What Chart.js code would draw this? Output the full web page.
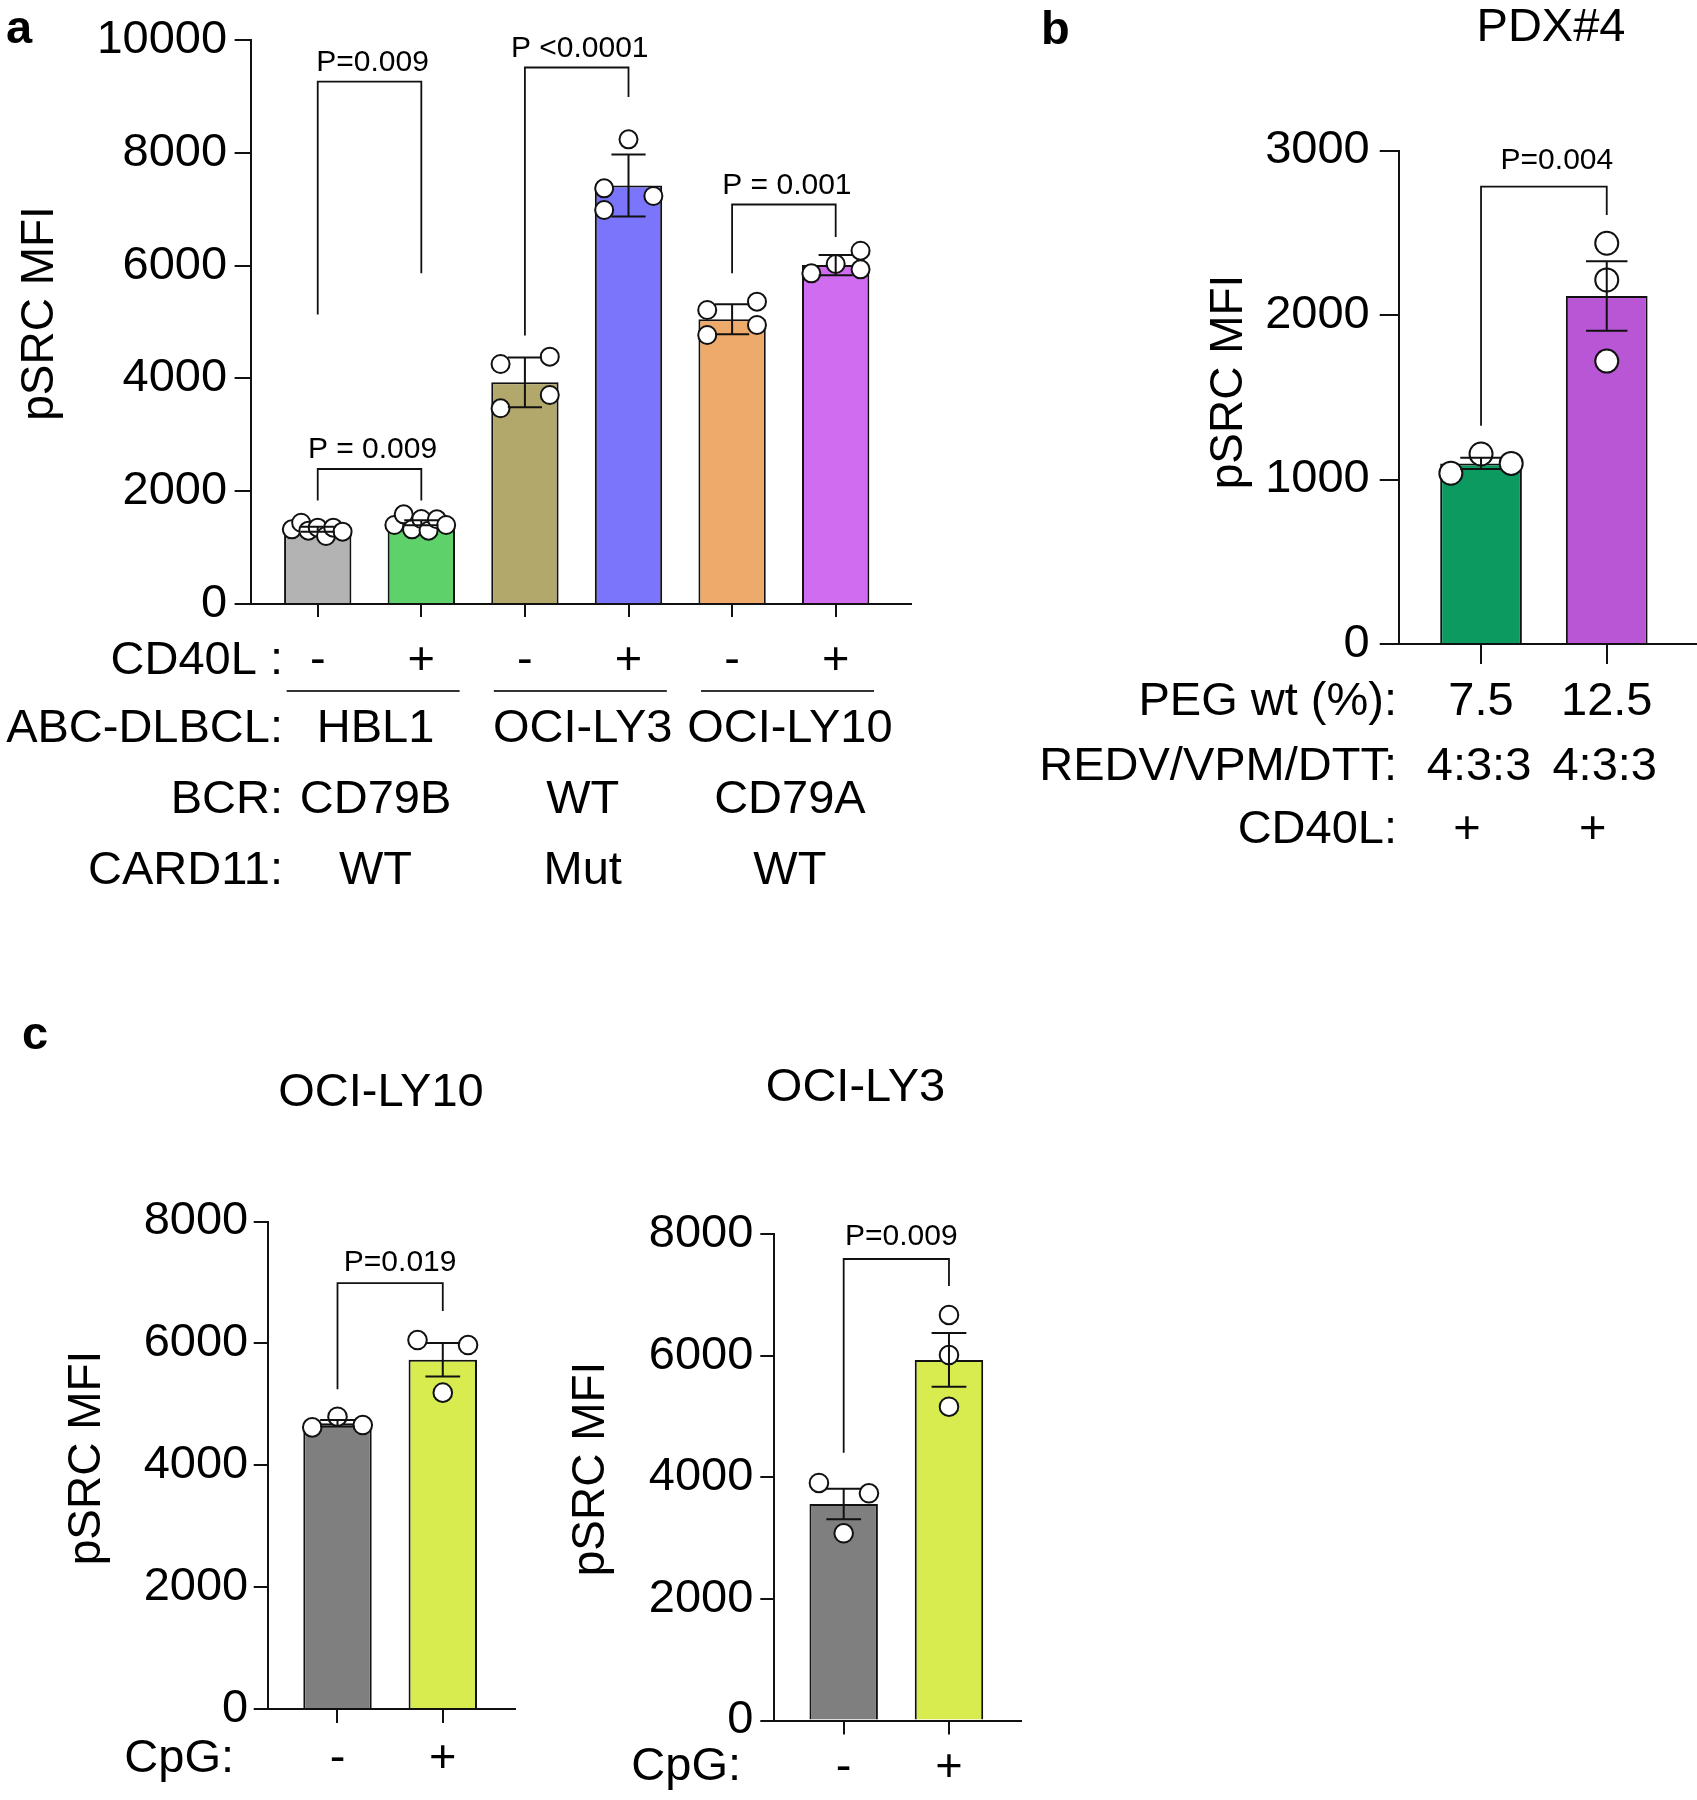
<!DOCTYPE html>
<html><head><meta charset="utf-8">
<script src="https://cdn.jsdelivr.net/npm/chart.js@4.4.1/dist/chart.umd.min.js"></script>
<style>
html,body{margin:0;padding:0;background:#fff;}
#wrap{position:relative;width:1697px;height:1800px;background:#fff;}
#wrap canvas{position:absolute;left:0;top:0;}
</style></head><body>
<div id="wrap">
<canvas id="ca" width="1697" height="1800"></canvas>
<canvas id="cb" width="1697" height="1800"></canvas>
<canvas id="cc1" width="1697" height="1800"></canvas>
<canvas id="cc2" width="1697" height="1800"></canvas>
</div>
<script>
// ---------------- DATA ----------------
// Panel a
const aTicks = ['-', '+', '-', '+', '-', '+'];
const aMeans = [1325, 1440, 3930, 7420, 5050, 6010];
const aSD = [45, 45, 440, 550, 265, 180];
const aPoints = [
  [1324, 1441, 1300, 1353, 1206, 1353, 1282],
  [1401, 1590, 1324, 1507, 1300, 1502, 1401],
  [4255, 4385, 3706, 3470],
  [8239, 7370, 7234, 6986],
  [5213, 5360, 4947, 4770],
  [5863, 6028, 6264, 5934]
];
const aJitter = [
  [-0.25, -0.16, -0.09, 0, 0.08, 0.15, 0.24],
  [-0.26, -0.17, -0.09, 0, 0.07, 0.15, 0.24],
  [-0.235, 0.24, 0.24, -0.235],
  [0, -0.235, 0.24, -0.235],
  [-0.24, 0.24, 0.24, -0.24],
  [-0.235, 0, 0.24, 0.24]
];
const aRowNames = ['CD40L :', 'ABC-DLBCL:', 'BCR:', 'CARD11:'];
const aCellLines = ['HBL1', 'OCI-LY3', 'OCI-LY10'];
const aBCR = ['CD79B', 'WT', 'CD79A'];
const aCARD11 = ['WT', 'Mut', 'WT'];
const aBrPairs = [[0, 1], [0, 1], [2, 3], [4, 5]];
const aBrTop = [9261, 2394, 9512, 7083];
const aBrLeftEnd = [5131, 1833, 4759, 5865];
const aBrRightEnd = [5865, 1833, 8988, 6509];
const aBrText = ['P=0.009', 'P = 0.009', 'P <0.0001', 'P = 0.001'];

// Panel b
const bTicks = ['7.5', '12.5'];
const bMeans = [1098, 2116];
const bSEM = [34, 211];
const bPoints = [[1038, 1155, 1098], [2436, 2213, 1720]];
const bJitter = [[-0.24, 0, 0.24], [0, 0, 0]];
const bRowNames = ['PEG wt (%):', 'REDV/VPM/DTT:', 'CD40L:'];
const bRatio = ['4:3:3', '4:3:3'];
const bCD40L = ['+', '+'];
const bBrPairs = [[0, 1]];
const bBrTop = [2781];
const bBrLeftEnd = [1327];
const bBrRightEnd = [2608];
const bBrText = ['P=0.004'];

// Panel c (OCI-LY10)
const c1Ticks = ['-', '+'];
const c1Means = [4690, 5730];
const c1SEM = [53, 275];
const c1Points = [[4622, 4797, 4660], [6055, 5973, 5191]];
const c1Jitter = [[-0.24, 0, 0.24], [-0.24, 0.24, 0]];
const c1BrPairs = [[0, 1]];
const c1BrTop = [6990];
const c1BrLeftEnd = [5246];
const c1BrRightEnd = [6531];
const c1BrText = ['P=0.019'];

// Panel c (OCI-LY3)
const c2Ticks = ['-', '+'];
const c2Means = [3560, 5930];
const c2SEM = [250, 440];
const c2Points = [[3906, 3736, 3078], [6668, 6010, 5160]];
const c2Jitter = [[-0.235, 0.24, 0], [0, 0, 0]];
const c2BrPairs = [[0, 1]];
const c2BrTop = [7589];
const c2BrLeftEnd = [4404];
const c2BrRightEnd = [7145];
const c2BrText = ['P=0.009'];

// ---------------- STYLE ----------------
const FONT = "'Liberation Sans', Arial, Helvetica, sans-serif";
Chart.defaults.font.family = FONT;
Chart.defaults.color = '#000';
const BIG = 47;
const aColors = ['#b3b3b3', '#5ed16a', '#b2a86b', '#7b75fb', '#eeaa6b', '#cf6cf0'];
const bColors = ['#0c9a60', '#b956d6'];
const cColors = ['#7f7f7f', '#d8ec50'];
const INK = '#111';

function drawText(ctx, s, x, y, o) {
  o = o || {};
  ctx.save();
  ctx.font = (o.weight || 'normal') + ' ' + (o.size || BIG) + 'px ' + FONT;
  ctx.fillStyle = '#000';
  ctx.textAlign = o.align || 'center';
  ctx.textBaseline = o.baseline || 'middle';
  if (o.rot) { ctx.translate(x, y); ctx.rotate(o.rot); ctx.fillText(s, 0, 0); }
  else ctx.fillText(s, x, y);
  ctx.restore();
}

function pointsData(points, jitter) {
  const out = [];
  points.forEach((arr, i) => arr.forEach((v, j) => out.push({x: i + jitter[i][j], y: v})));
  return out;
}

function annot(spec) {
  return {
    id: 'annot',
    afterDatasetsDraw(chart) {
      const ctx = chart.ctx, xs = chart.scales.x, ys = chart.scales.y;
      const unit = xs.getPixelForValue(1) - xs.getPixelForValue(0);
      ctx.save();
      ctx.strokeStyle = INK; ctx.lineWidth = 2; ctx.lineCap = 'butt';
      spec.means.forEach((v, i) => {
        const x = xs.getPixelForValue(i);
        const y1 = ys.getPixelForValue(v + spec.err[i]);
        const y2 = ys.getPixelForValue(v - spec.err[i]);
        const cw = 0.165 * unit;
        ctx.beginPath();
        ctx.moveTo(x, y1); ctx.lineTo(x, y2);
        ctx.moveTo(x - cw, y1); ctx.lineTo(x + cw, y1);
        ctx.moveTo(x - cw, y2); ctx.lineTo(x + cw, y2);
        ctx.stroke();
      });
      const br = spec.br;
      ctx.lineWidth = 1.8; ctx.lineJoin = 'miter';
      br.pairs.forEach((p, k) => {
        const xl = xs.getPixelForValue(p[0]), xr = xs.getPixelForValue(p[1]);
        const yt = ys.getPixelForValue(br.top[k]);
        ctx.beginPath();
        ctx.moveTo(xl, ys.getPixelForValue(br.left[k]));
        ctx.lineTo(xl, yt); ctx.lineTo(xr, yt);
        ctx.lineTo(xr, ys.getPixelForValue(br.right[k]));
        ctx.stroke();
        drawText(ctx, br.text[k], (xl + xr) / 2 + spec.pShift, yt - spec.pGap, {size: 30});
      });
      ctx.restore();
      spec.extra(ctx, xs, ys);
    }
  };
}

function buildPanel(spec) {
  const YW = 150, XH = 90;
  const B = spec.box;
  new Chart(document.getElementById(spec.id), {
    type: 'bar',
    data: {
      datasets: [
        {type: 'bar', data: spec.means.map((v, i) => ({x: i, y: v})), backgroundColor: spec.colors,
         borderColor: INK, borderWidth: 2, barPercentage: 0.65, categoryPercentage: 1, order: 2},
        {type: 'scatter', data: pointsData(spec.points, spec.jitter), pointRadius: spec.r,
         pointBackgroundColor: '#fff', pointBorderColor: INK, pointBorderWidth: 2, order: 1, clip: false}
      ]
    },
    options: {
      responsive: false, animation: false, events: [],
      layout: {autoPadding: false,
               padding: {left: B.left - YW, top: B.top, right: 1697 - B.right, bottom: 1800 - B.bottom - XH}},
      plugins: {legend: {display: false}, tooltip: {enabled: false}},
      scales: {
        x: {
          type: 'linear', min: spec.xr[0], max: spec.xr[1], offset: false,
          afterBuildTicks: s => { s.ticks = spec.means.map((_, i) => ({value: i})); },
          afterFit: s => { s.height = XH; s.paddingLeft = 0; s.paddingRight = 0; },
          ticks: {callback: v => (spec.ticks[v] !== undefined ? spec.ticks[v] : ''), font: {size: BIG},
                  color: '#000', padding: spec.xPad, maxRotation: 0, autoSkip: false},
          grid: {display: true, drawOnChartArea: false, drawTicks: true, tickLength: spec.xTick,
                 color: INK, lineWidth: 2, offset: false},
          border: {display: true, color: INK, width: 2}
        },
        y: {
          min: 0, max: spec.yMax,
          afterFit: s => { s.width = YW; s.paddingTop = 0; s.paddingBottom = 0; },
          ticks: {stepSize: spec.yStep, font: {size: BIG}, color: '#000', padding: spec.yPad,
                  callback: v => String(v)},
          grid: {display: true, drawOnChartArea: false, drawTicks: true, tickLength: spec.yTick,
                 color: INK, lineWidth: 2},
          border: {display: true, color: INK, width: 2}
        }
      }
    },
    plugins: [annot(spec)]
  });
}

// ---------------- PANELS ----------------
buildPanel({
  id: 'ca', box: {left: 250.6, top: 40, right: 911, bottom: 604}, xr: [-0.648, 5.727],
  yMax: 10000, yStep: 2000, yTick: 16, yPad: 7.5, xTick: 13, xPad: 16, r: 9,
  means: aMeans, err: aSD, points: aPoints, jitter: aJitter, colors: aColors, ticks: aTicks,
  br: {pairs: aBrPairs, top: aBrTop, left: aBrLeftEnd, right: aBrRightEnd, text: aBrText},
  pGap: 19, pShift: 3,
  extra(ctx, xs, ys) {
    drawText(ctx, 'a', 6, 43.4, {weight: 'bold', align: 'left', baseline: 'alphabetic'});
    drawText(ctx, 'pSRC MFI', 40, 313.5, {rot: -Math.PI / 2, size: 46});
    const rowY = [661, 729, 800, 871];
    aRowNames.forEach((s, k) => drawText(ctx, s, 283, rowY[k], {align: 'right'}));
    [aCellLines, aBCR, aCARD11].forEach((arr, k) =>
      arr.forEach((s, g) => drawText(ctx, s, xs.getPixelForValue(2 * g + 0.5) + 6, rowY[k + 1])));
    ctx.save(); ctx.strokeStyle = '#333'; ctx.lineWidth = 2;
    aCellLines.forEach((_, g) => {
      ctx.beginPath();
      ctx.moveTo(xs.getPixelForValue(2 * g - 0.3), 691);
      ctx.lineTo(xs.getPixelForValue(2 * g + 1.37), 691);
      ctx.stroke();
    });
    ctx.restore();
  }
});

buildPanel({
  id: 'cb', box: {left: 1398.7, top: 150.5, right: 1697, bottom: 644}, xr: [-0.655, 1.718],
  yMax: 3000, yStep: 1000, yTick: 19, yPad: 10, xTick: 20, xPad: 10, r: 11.5,
  means: bMeans, err: bSEM, points: bPoints, jitter: bJitter, colors: bColors, ticks: bTicks,
  br: {pairs: bBrPairs, top: bBrTop, left: bBrLeftEnd, right: bBrRightEnd, text: bBrText},
  pGap: 26, pShift: 13,
  extra(ctx, xs, ys) {
    drawText(ctx, 'b', 1041, 43.6, {weight: 'bold', align: 'left', baseline: 'alphabetic'});
    drawText(ctx, 'PDX#4', 1551, 28);
    drawText(ctx, 'pSRC MFI', 1229, 382, {rot: -Math.PI / 2, size: 46});
    const rowY = [702, 767, 830];
    bRowNames.forEach((s, k) => drawText(ctx, s, 1397, rowY[k], {align: 'right'}));
    bRatio.forEach((s, i) => drawText(ctx, s, xs.getPixelForValue(i) - 2, rowY[1]));
    bCD40L.forEach((s, i) => drawText(ctx, s, xs.getPixelForValue(i) - 14, rowY[2]));
  }
});

buildPanel({
  id: 'cc1', box: {left: 267.7, top: 1221.5, right: 515, bottom: 1709}, xr: [-0.663, 1.686],
  yMax: 8000, yStep: 2000, yTick: 14, yPad: 5.5, xTick: 14, xPad: 8, r: 9.3,
  means: c1Means, err: c1SEM, points: c1Points, jitter: c1Jitter, colors: cColors, ticks: c1Ticks,
  br: {pairs: c1BrPairs, top: c1BrTop, left: c1BrLeftEnd, right: c1BrRightEnd, text: c1BrText},
  pGap: 20, pShift: 10,
  extra(ctx, xs, ys) {
    drawText(ctx, 'c', 22, 1048.7, {weight: 'bold', align: 'left', baseline: 'alphabetic'});
    drawText(ctx, 'OCI-LY10', 381, 1093);
    drawText(ctx, 'pSRC MFI', 87, 1458, {rot: -Math.PI / 2, size: 46});
    drawText(ctx, 'CpG:', 234, 1759, {align: 'right'});
  }
});

buildPanel({
  id: 'cc2', box: {left: 774.3, top: 1234, right: 1021, bottom: 1720.5}, xr: [-0.659, 1.684],
  yMax: 8000, yStep: 2000, yTick: 14, yPad: 7, xTick: 14, xPad: 5, r: 9.3,
  means: c2Means, err: c2SEM, points: c2Points, jitter: c2Jitter, colors: cColors, ticks: c2Ticks,
  br: {pairs: c2BrPairs, top: c2BrTop, left: c2BrLeftEnd, right: c2BrRightEnd, text: c2BrText},
  pGap: 22.5, pShift: 5,
  extra(ctx, xs, ys) {
    drawText(ctx, 'OCI-LY3', 855.5, 1088.5);
    drawText(ctx, 'pSRC MFI', 591, 1469, {rot: -Math.PI / 2, size: 46});
    drawText(ctx, 'CpG:', 741, 1767, {align: 'right'});
  }
});
</script>
</body></html>
